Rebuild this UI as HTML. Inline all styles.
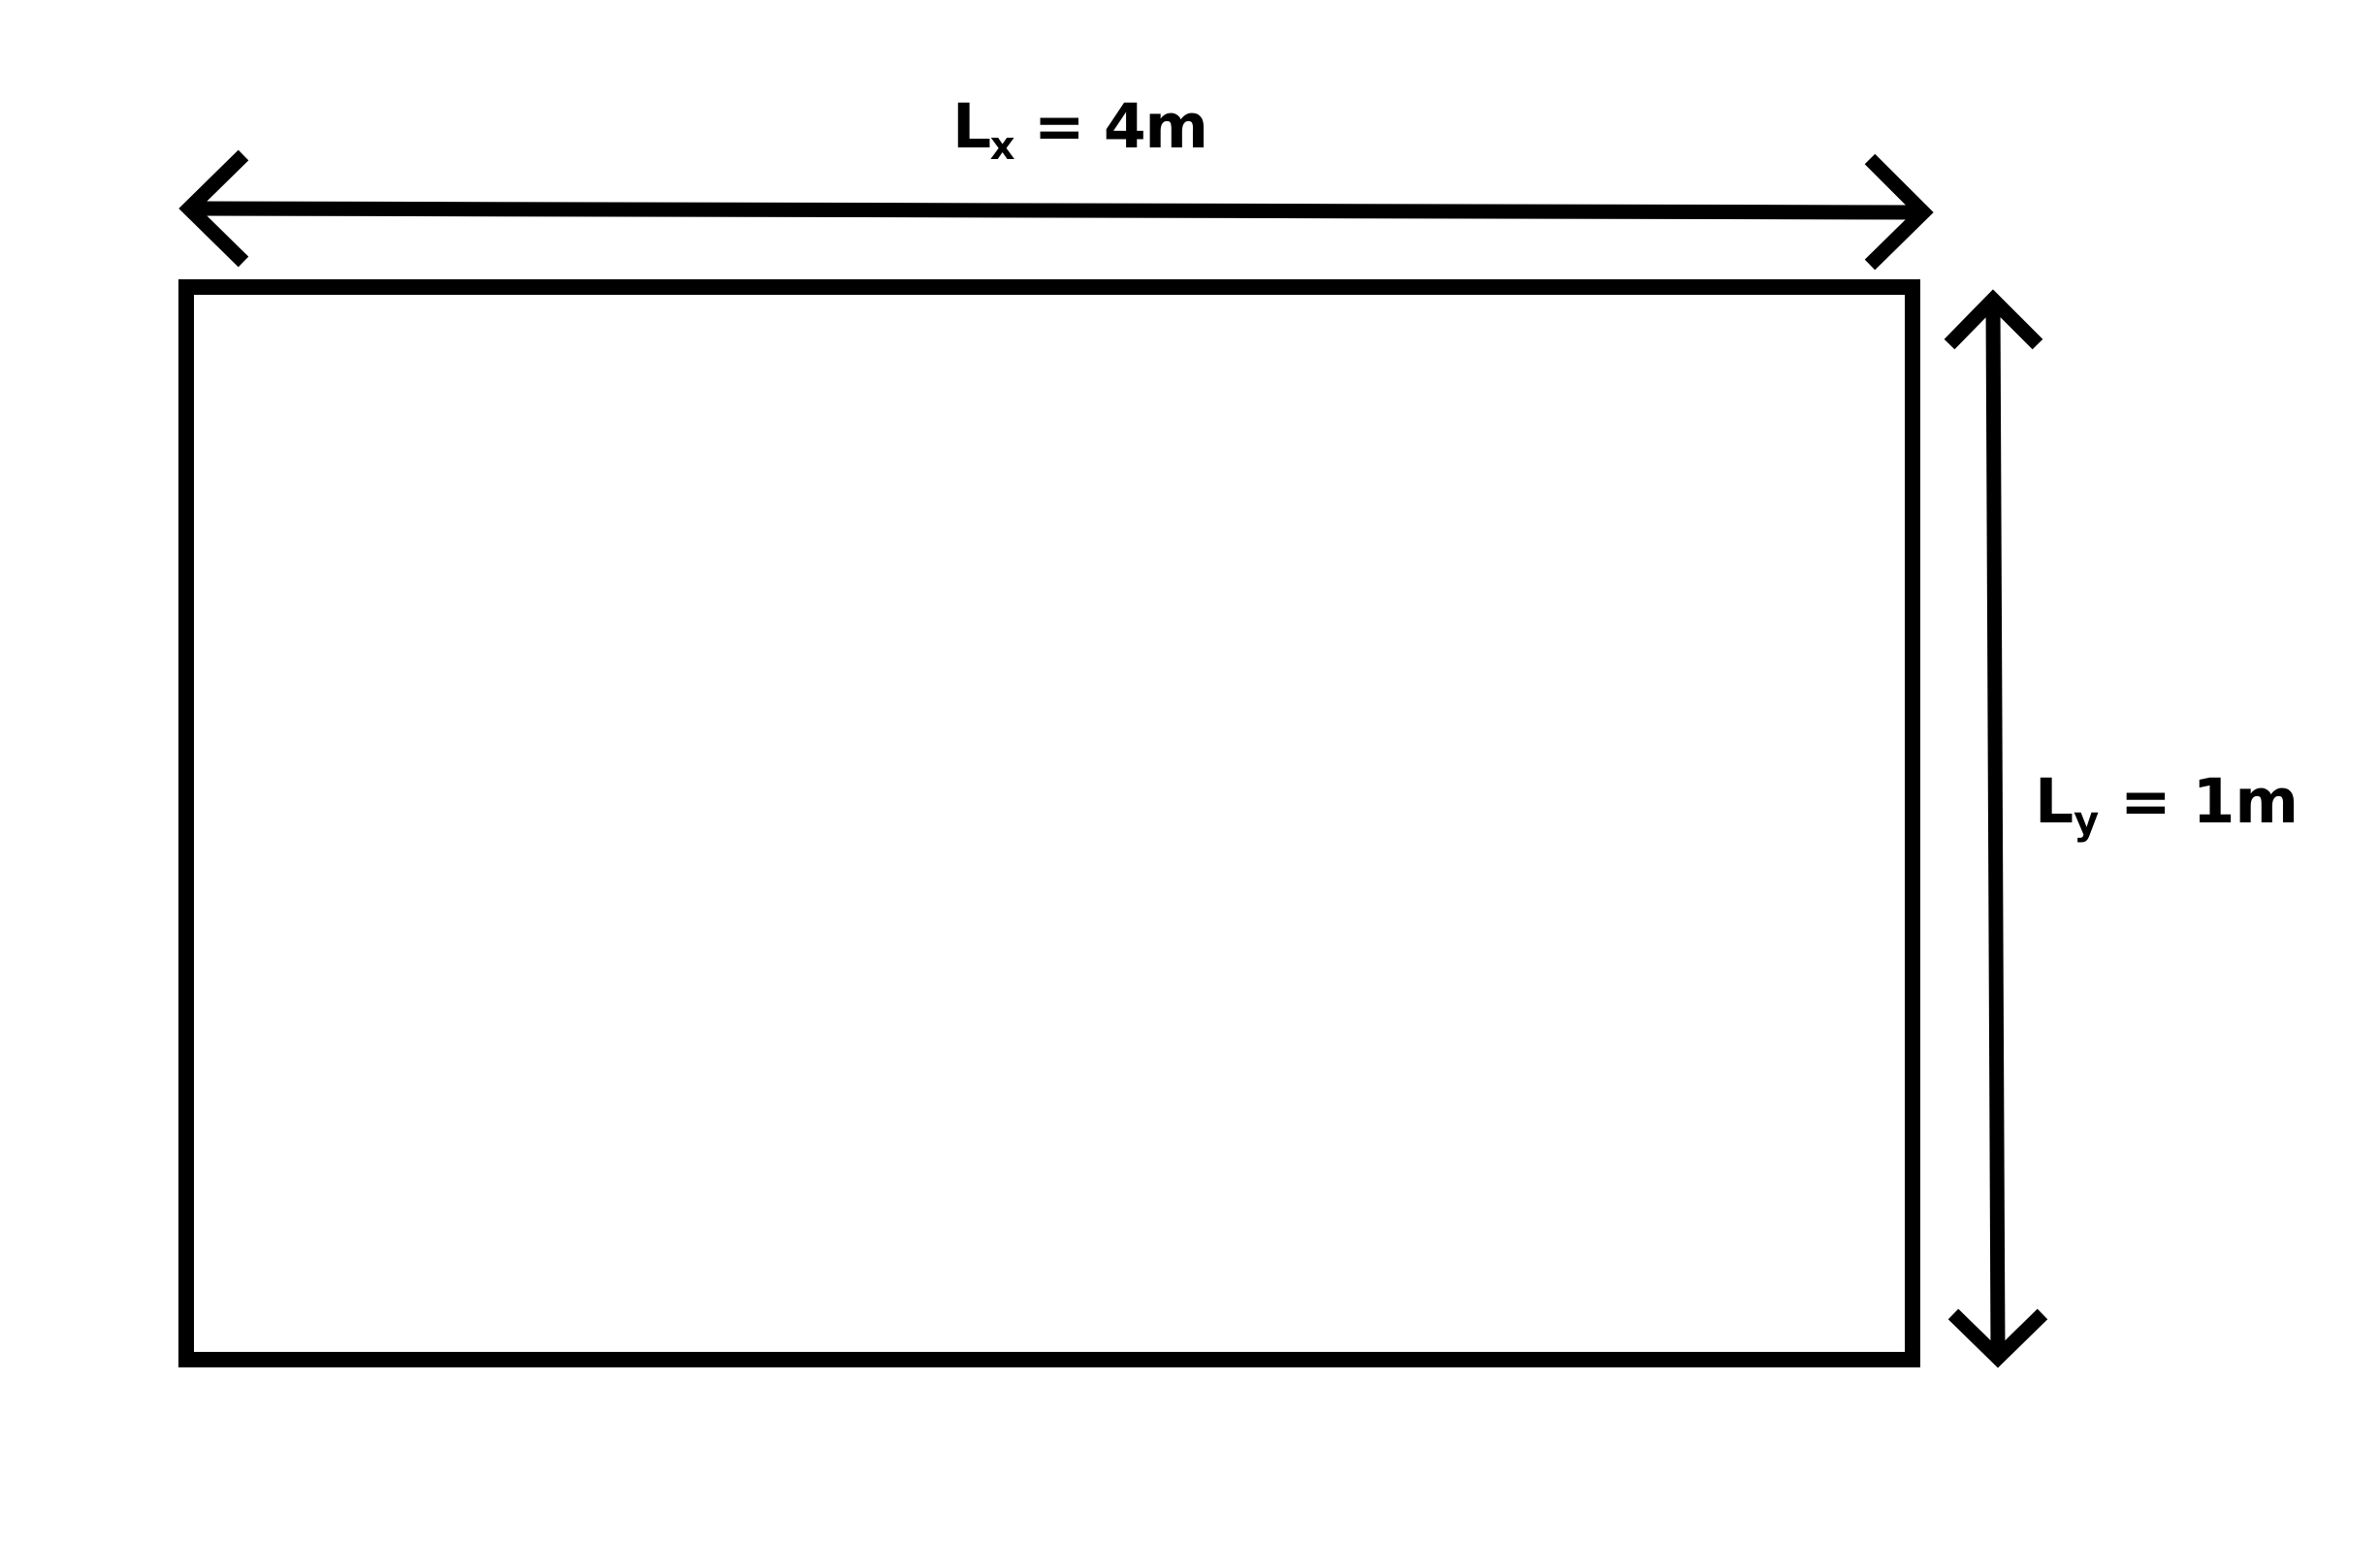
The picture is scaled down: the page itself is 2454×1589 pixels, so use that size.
<!DOCTYPE html>
<html><head><meta charset="utf-8"><style>
html,body{margin:0;padding:0;background:#fff;}
svg{display:block;}
text{font-family:"DejaVu Sans","Liberation Sans",sans-serif;font-weight:bold;fill:#000;}
</style></head><body>
<svg width="2454" height="1589" viewBox="0 0 2454 1589">
<rect x="192" y="296" width="1780" height="1106" fill="none" stroke="#000" stroke-width="16"/>
<g fill="none" stroke="#000" stroke-width="15">
<line x1="198" y1="215" x2="1980" y2="219"/>
<polyline points="251,160 195,215 251,270"/>
<polyline points="1928,164 1983,219 1928,273"/>
</g>
<g fill="none" stroke="#000" stroke-width="15">
<line x1="2055" y1="312" x2="2060" y2="1396"/>
<polyline points="2010,355 2055,309 2101,355"/>
<polyline points="2014,1355 2060,1400 2106,1355"/>
</g>
<text x="982" y="152" font-size="63" textLength="264">L<tspan font-size="40" dy="12">x</tspan><tspan dy="-12"> = 4m</tspan></text>
<text x="2098" y="848" font-size="63" textLength="272" lengthAdjust="spacing">L<tspan font-size="40" dy="12">y</tspan><tspan dy="-12"> = 1m</tspan></text>
</svg>
</body></html>
